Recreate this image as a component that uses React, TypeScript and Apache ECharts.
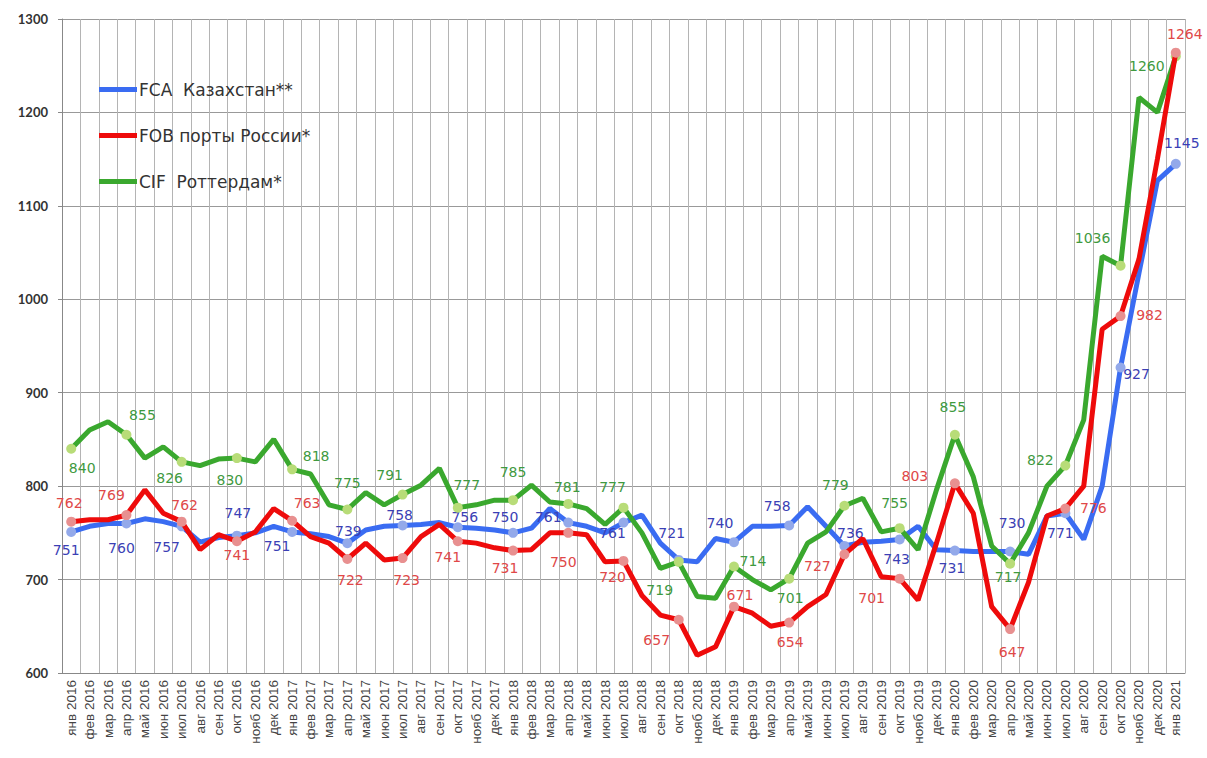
import React, { useEffect, useRef } from "react";
import * as echarts from "echarts";

const months = [
  "янв 2016","фев 2016","мар 2016","апр 2016","май 2016","июн 2016","июл 2016","авг 2016","сен 2016","окт 2016","нояб 2016","дек 2016",
  "янв 2017","фев 2017","мар 2017","апр 2017","май 2017","июн 2017","июл 2017","авг 2017","сен 2017","окт 2017","нояб 2017","дек 2017",
  "янв 2018","фев 2018","мар 2018","апр 2018","май 2018","июн 2018","июл 2018","авг 2018","сен 2018","окт 2018","нояб 2018","дек 2018",
  "янв 2019","фев 2019","мар 2019","апр 2019","май 2019","июн 2019","июл 2019","авг 2019","сен 2019","окт 2019","нояб 2019","дек 2019",
  "янв 2020","фев 2020","мар 2020","апр 2020","май 2020","июн 2020","июл 2020","авг 2020","сен 2020","окт 2020","нояб 2020","дек 2020",
  "янв 2021",
];

const fcaKazakhstan = [
  751, 757, 760, 760, 765, 762, 757, 740, 745, 747, 750, 757,
  751, 749, 746, 739, 753, 757, 758, 759, 761, 756, 755, 753,
  750, 755, 776, 761, 757, 750, 761, 769, 739, 721, 719, 744,
  740, 757, 757, 758, 778, 757, 736, 740, 741, 743, 757, 732,
  731, 730, 730, 730, 727, 768, 771, 743, 800, 927, 1028, 1127,
  1145,
];

const fobRussia = [
  762, 764, 764, 769, 796, 771, 762, 732, 748, 741, 751, 776,
  763, 746, 739, 722, 739, 721, 723, 746, 759, 741, 739, 734,
  731, 732, 750, 750, 748, 719, 720, 683, 662, 657, 619, 628,
  671, 664, 650, 654, 671, 684, 727, 744, 703, 701, 678, 739,
  803, 771, 671, 647, 697, 768, 776, 800, 968, 982, 1043, 1150,
  1264,
];

const cifRotterdam = [
  840, 860, 869, 855, 830, 842, 826, 822, 829, 830, 826, 850,
  818, 813, 780, 775, 793, 780, 791, 801, 819, 777, 780, 785,
  785, 801, 783, 781, 776, 759, 777, 750, 712, 719, 682, 680,
  714, 700, 689, 701, 739, 751, 779, 787, 751, 755, 732, 796,
  855, 810, 736, 717, 750, 800, 822, 871, 1046, 1036, 1216, 1200,
  1260,
];

const seriesNames = ["FCA  Казахстан**", "FOB порты России*", "CIF  Роттердам*"];
const yTicks = [600, 700, 800, 900, 1000, 1100, 1200, 1300];

// label offsets (style only) for every labelled (quarterly) point
const blueOffsets = [
  [-5, 18], [-5, 24], [-15, 21], [1, -23], [-15, 14], [1, -12], [-3, -10], [7, -10],
  [-8, -16], [-20, -6], [-11, 10], [-7, -27], [-14, -19], [-12, -19], [6, -13], [-3, 20],
  [-3, 17], [2, -29], [-5, 20], [16, 7], [6, -21],
];
const redOffsets = [
  [-2, -19], [-15, -20], [3, -17], [0, 14], [15, -18], [3, 21], [4, 22], [-10, 16],
  [-8, 17], [-5, 29], [-11, 16], [-22, 20], [6, -12], [1, 19], [-27, 12], [-28, 19],
  [-40, -7], [2, 23], [28, -1], [29, -1], [9, -19],
];
const greenOffsets = [
  [11, 19], [16, -20], [-12, 16], [-7, 22], [24, -13], [0, -27], [-13, -20], [9, -23],
  [0, -28], [-1, -17], [-11, -21], [-19, 28], [19, -5], [1, 19], [-9, -21], [-5, -25],
  [-2, -28], [-2, 13], [-25, -6], [-28, -28], [-29, 10],
];

function buildData(values: number[], offsets: number[][], markerColor: string) {
  return values.map((v, i) => {
    if (i % 3 === 0) {
      const off = offsets[i / 3] || [0, -15];
      return {
        value: v,
        symbol: "circle",
        symbolSize: 10,
        itemStyle: { color: markerColor, borderWidth: 0 },
        label: { show: true, position: "inside", offset: off },
      };
    }
    return { value: v, symbol: "none", label: { show: false } };
  });
}

export default function App() {
  const ref = useRef<HTMLDivElement>(null);
  useEffect(() => {
    document.body.style.margin = "0";
    const chart = echarts.init(ref.current!, null, { renderer: "svg" });
    const labelFont = { fontFamily: "DejaVu Sans", fontSize: 14 };
    chart.setOption({
      animation: false,
      backgroundColor: "#ffffff",
      grid: { left: 62, right: 22, top: 19, bottom: 85 },
      legend: {
        orient: "vertical",
        left: 94,
        top: 76,
        itemGap: 29,
        itemWidth: 38,
        itemHeight: 5,
        icon: "rect",
        textStyle: { fontFamily: "DejaVu Sans", fontSize: 17, color: "#333", padding: [0, 0, 0, -3] },
        data: seriesNames,
      },
      xAxis: {
        type: "category",
        data: months,
        boundaryGap: true,
        axisLine: { lineStyle: { color: "#888", width: 1 } },
        axisTick: { show: false },
        splitLine: { show: true, interval: 0, lineStyle: { color: "#b4b4b4", width: 1 } },
        axisLabel: {
          interval: 0,
          rotate: 90,
          margin: 7,
          fontFamily: "Liberation Sans",
          fontSize: 13.5,
          color: "#444",
        },
      },
      yAxis: {
        type: "value",
        min: yTicks[0],
        max: yTicks[yTicks.length - 1],
        interval: 100,
        axisLine: { show: true, lineStyle: { color: "#888" } },
        axisTick: { show: true, length: 4, lineStyle: { color: "#888" } },
        splitLine: { show: true, lineStyle: { color: "#999", width: 1 } },
        axisLabel: {
          formatter: (v: number) => String(v),
          fontFamily: "Lato",
          fontSize: 13,
          fontWeight: "bold",
          color: "#333",
          margin: 14,
        },
      },
      series: [
        {
          name: seriesNames[0],
          type: "line",
          z: 2,
          color: "#3a6cf2",
          lineStyle: { width: 5, color: "#3a6cf2" },
          label: { ...labelFont, color: "#3b3fb5" },
          data: buildData(fcaKazakhstan, blueOffsets, "#93a9ea"),
        },
        {
          name: seriesNames[1],
          type: "line",
          z: 4,
          color: "#ee0b0b",
          lineStyle: { width: 5, color: "#ee0b0b" },
          label: { ...labelFont, color: "#e04848" },
          data: buildData(fobRussia, redOffsets, "#e89090"),
        },
        {
          name: seriesNames[2],
          type: "line",
          z: 3,
          color: "#3aa82e",
          lineStyle: { width: 5, color: "#3aa82e" },
          label: { ...labelFont, color: "#3f9a3f" },
          data: buildData(cifRotterdam, greenOffsets, "#b8dc78"),
        },
      ],
    });
    return () => chart.dispose();
  }, []);
  return <div ref={ref} style={{ width: 1207, height: 758 }} />;
}
